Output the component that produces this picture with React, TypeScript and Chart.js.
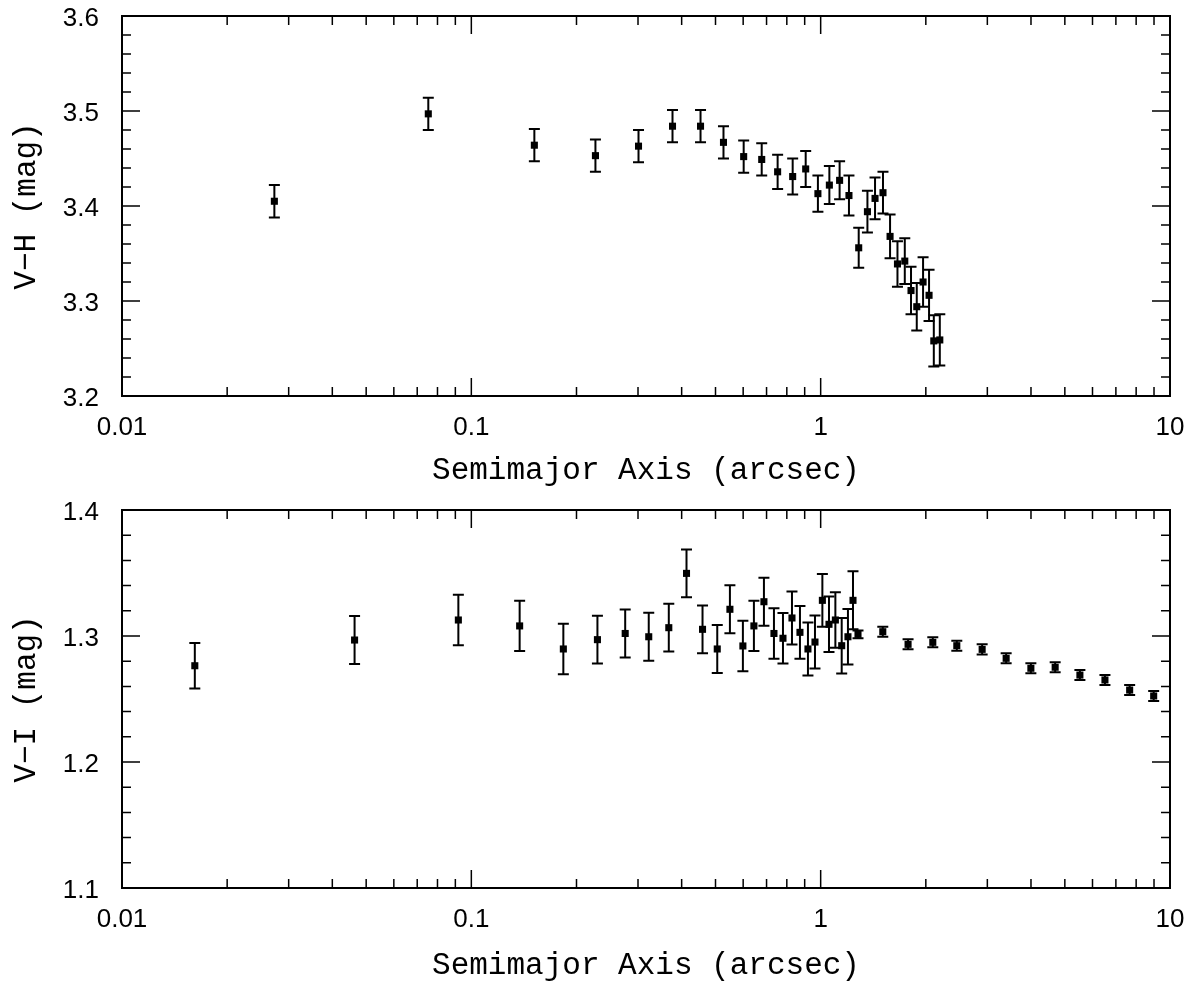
import React, { useEffect, useRef } from "react";
import { Chart, registerables } from "chart.js";

Chart.register(...registerables);

// ---- shared x axis ----
const xTickValues = [0.01, 0.1, 1, 10];
const xTickLabels = ["0.01", "0.1", "1", "10"];
const xTitle = "Semimajor Axis (arcsec)";

// ---- top panel: V-H ----
const vhX = [0.0273, 0.0753, 0.1515, 0.2266, 0.301, 0.3766, 0.453, 0.527, 0.602, 0.678,
  0.753, 0.8315, 0.906, 0.982, 1.059, 1.133, 1.205, 1.285, 1.361, 1.431,
  1.508, 1.58, 1.659, 1.741, 1.814, 1.884, 1.964, 2.043, 2.108, 2.193];
const vhY = [3.405, 3.497, 3.464, 3.453, 3.463, 3.484, 3.484, 3.467, 3.452, 3.449,
  3.436, 3.431, 3.439, 3.413, 3.422, 3.427, 3.411, 3.356, 3.394, 3.408,
  3.414, 3.368, 3.339, 3.342, 3.311, 3.294, 3.320, 3.306, 3.258, 3.259];
const vhErr = [0.017, 0.017, 0.017, 0.017, 0.017, 0.017, 0.017, 0.017, 0.017, 0.017,
  0.018, 0.019, 0.019, 0.019, 0.020, 0.020, 0.021, 0.021, 0.022, 0.022,
  0.022, 0.023, 0.024, 0.024, 0.025, 0.025, 0.026, 0.027, 0.027, 0.027];
const vhTicks = [3.2, 3.3, 3.4, 3.5, 3.6];
const vhTickLabels = ["3.2", "3.3", "3.4", "3.5", "3.6"];
const vhTitle = "V\u2212H (mag)";

// ---- bottom panel: V-I ----
const viX = [0.01616, 0.04632, 0.0918, 0.1375, 0.1834, 0.2296, 0.2757, 0.322, 0.3675, 0.413,
  0.459, 0.5058, 0.5498, 0.5989, 0.644, 0.688, 0.735, 0.78, 0.8277, 0.8724,
  0.9196, 0.9632, 1.0113, 1.0564, 1.1018, 1.1487, 1.197, 1.2375, 1.279, 1.506,
  1.779, 2.094, 2.453, 2.899, 3.396, 3.997, 4.691, 5.522, 6.513, 7.665, 8.98];
const viY = [1.2764, 1.2968, 1.3127, 1.308, 1.2897, 1.2971, 1.302, 1.2994, 1.3066, 1.3497,
  1.3053, 1.2897, 1.3212, 1.2921, 1.308, 1.3272, 1.302, 1.2982, 1.3143, 1.3029,
  1.2897, 1.2952, 1.3283, 1.3093, 1.3127, 1.2923, 1.2994, 1.3283, 1.3013, 1.3034,
  1.2934, 1.295, 1.2923, 1.2894, 1.2823, 1.2744, 1.2752, 1.269, 1.2651, 1.2571, 1.2524];
const viErr = [0.018, 0.019, 0.020, 0.020, 0.020, 0.019, 0.019, 0.019, 0.019, 0.019,
  0.019, 0.019, 0.019, 0.020, 0.020, 0.019, 0.020, 0.020, 0.021, 0.021,
  0.021, 0.021, 0.021, 0.022, 0.022, 0.022, 0.022, 0.023, 0.003, 0.004,
  0.004, 0.004, 0.004, 0.004, 0.004, 0.004, 0.004, 0.004, 0.004, 0.004, 0.004];
const viTicks = [1.1, 1.2, 1.3, 1.4];
const viTickLabels = ["1.1", "1.2", "1.3", "1.4"];
const viTitle = "V\u2212I (mag)";

const SANS = "'Liberation Sans', Arial, Helvetica, sans-serif";
const MONO = "'Liberation Mono', 'Courier New', Courier, monospace";

type PanelProps = {
  xs: number[];
  ys: number[];
  errs: number[];
  yTicks: number[];
  yTickLabels: string[];
  yTitle: string;
  height: number;
  padTop: number;
  xAxisHeight: number;
};

function makeFramePlugin(xs: number[], ys: number[], errs: number[], yMin: number, yMax: number) {
  return {
    id: "frameTicks",
    beforeDatasetsDraw(chart: any) {
      const ctx = chart.ctx;
      const sx = chart.scales.x;
      const sy = chart.scales.y;
      ctx.save();
      ctx.strokeStyle = "#000";
      ctx.lineWidth = 2;
      const cap = 5.5;
      for (let i = 0; i < xs.length; i++) {
        const px = sx.getPixelForValue(xs[i]);
        const y1 = sy.getPixelForValue(ys[i] - errs[i]);
        const y2 = sy.getPixelForValue(ys[i] + errs[i]);
        ctx.beginPath();
        ctx.moveTo(px, y1);
        ctx.lineTo(px, y2);
        ctx.moveTo(px - cap, y1);
        ctx.lineTo(px + cap, y1);
        ctx.moveTo(px - cap, y2);
        ctx.lineTo(px + cap, y2);
        ctx.stroke();
      }
      ctx.restore();
    },
    afterDraw(chart: any) {
      const ctx = chart.ctx;
      const a = chart.chartArea;
      const sx = chart.scales.x;
      const sy = chart.scales.y;
      ctx.save();
      ctx.strokeStyle = "#000";
      ctx.lineWidth = 1.5;
      const major = 18;
      const minor = 9;
      const decades = [0.01, 0.1, 1];
      const xVals: { v: number; major: boolean }[] = [];
      decades.forEach((d) => {
        for (let m = 1; m <= 9; m++) xVals.push({ v: m * d, major: m === 1 });
      });
      xVals.push({ v: 10, major: true });
      ctx.beginPath();
      xVals.forEach(({ v, major: isMajor }) => {
        const px = sx.getPixelForValue(v);
        const len = isMajor ? major : minor;
        ctx.moveTo(px, a.bottom);
        ctx.lineTo(px, a.bottom - len);
        ctx.moveTo(px, a.top);
        ctx.lineTo(px, a.top + len);
      });
      const n = Math.round((yMax - yMin) / 0.02);
      for (let k = 0; k <= n; k++) {
        const v = yMin + k * 0.02;
        const py = sy.getPixelForValue(v);
        const len = k % 5 === 0 ? major : minor;
        ctx.moveTo(a.left, py);
        ctx.lineTo(a.left + len, py);
        ctx.moveTo(a.right, py);
        ctx.lineTo(a.right - len, py);
      }
      ctx.stroke();
      ctx.lineWidth = 2;
      ctx.strokeRect(a.left, a.top, a.right - a.left, a.bottom - a.top);
      ctx.restore();
    },
  };
}

function Panel(props: PanelProps) {
  const ref = useRef<HTMLCanvasElement | null>(null);
  useEffect(() => {
    const { xs, ys, errs, yTicks, yTickLabels, yTitle, padTop, xAxisHeight } = props;
    const yMin = yTicks[0];
    const yMax = yTicks[yTicks.length - 1];
    const chart = new Chart(ref.current as HTMLCanvasElement, {
      type: "scatter",
      data: {
        datasets: [
          {
            data: xs.map((x, i) => ({ x, y: ys[i] })),
            pointStyle: "rect",
            pointRadius: 5,
            pointHoverRadius: 5,
            backgroundColor: "#000",
            borderColor: "#000",
            borderWidth: 0,
            showLine: false,
          } as any,
        ],
      },
      options: {
        animation: false,
        responsive: false,
        devicePixelRatio: 1,
        events: [],
        layout: { padding: { top: padTop, right: 26, left: 0, bottom: 0 } },
        plugins: { legend: { display: false }, tooltip: { enabled: false } },
        scales: {
          x: {
            type: "logarithmic",
            min: 0.01,
            max: 10,
            position: "bottom",
            afterBuildTicks: (s: any) => {
              s.ticks = xTickValues.map((v) => ({ value: v }));
            },
            afterFit: (s: any) => {
              s.height = xAxisHeight;
              s.paddingLeft = 0;
              s.paddingRight = 0;
              s.paddingTop = 0;
              s.paddingBottom = 0;
            },
            ticks: {
              autoSkip: false,
              maxRotation: 0,
              minRotation: 0,
              padding: 16,
              color: "#000",
              font: { family: SANS, size: 26 },
              callback: (_v: any, i: number) => xTickLabels[i],
            },
            grid: { display: false, drawTicks: false },
            border: { display: false },
            title: {
              display: true,
              text: xTitle,
              color: "#000",
              font: { family: MONO, size: 31 },
              padding: { top: 0, bottom: 6 },
            },
          } as any,
          y: {
            type: "linear",
            min: yMin,
            max: yMax,
            afterBuildTicks: (s: any) => {
              s.ticks = yTicks.map((v) => ({ value: v }));
            },
            afterFit: (s: any) => {
              s.width = 122;
              s.paddingLeft = 0;
              s.paddingRight = 0;
              s.paddingTop = 0;
              s.paddingBottom = 0;
            },
            ticks: {
              padding: 23,
              labelOffset: 3,
              color: "#000",
              font: { family: SANS, size: 26 },
              callback: (_v: any, i: number) => yTickLabels[i],
            },
            grid: { display: false, drawTicks: false },
            border: { display: false },
            title: {
              display: true,
              text: yTitle,
              color: "#000",
              font: { family: MONO, size: 31 },
              padding: { top: 8, bottom: 0 },
            },
          } as any,
        },
      },
      plugins: [makeFramePlugin(xs, ys, errs, yMin, yMax)],
    });
    return () => chart.destroy();
  }, []);
  return (
    <canvas
      ref={ref}
      width={1196}
      height={props.height}
      style={{ display: "block", width: "1196px", height: props.height + "px" }}
    />
  );
}

export default function App() {
  useEffect(() => {
    document.body.style.margin = "0";
    document.body.style.background = "#fff";
  }, []);
  return (
    <div style={{ width: 1196, height: 990, background: "#fff" }}>
      <Panel xs={vhX} ys={vhY} errs={vhErr} yTicks={vhTicks} yTickLabels={vhTickLabels}
        yTitle={vhTitle} height={495} padTop={16} xAxisHeight={99} />
      <Panel xs={viX} ys={viY} errs={viErr} yTicks={viTicks} yTickLabels={viTickLabels}
        yTitle={viTitle} height={495} padTop={15} xAxisHeight={102} />
    </div>
  );
}
